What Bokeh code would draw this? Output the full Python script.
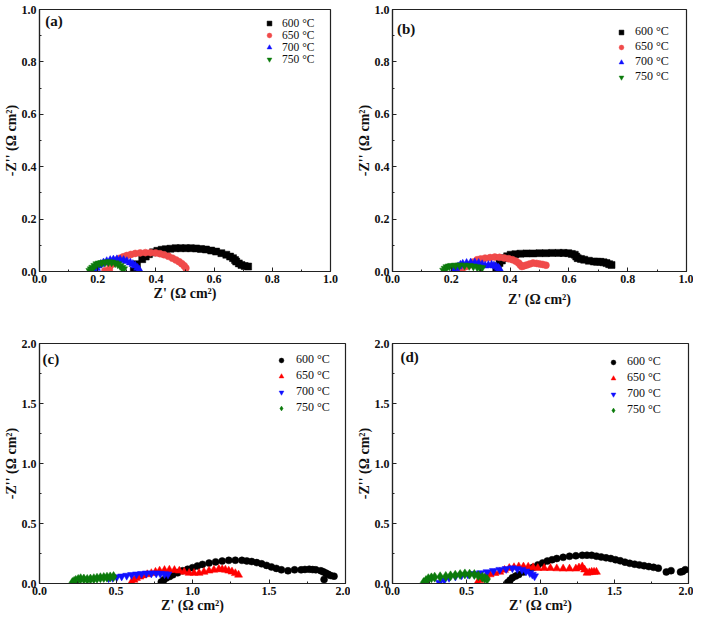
from bokeh.plotting import figure
from bokeh.layouts import column, row
from bokeh.models import SingleIntervalTicker, PrintfTickFormatter, Label, Legend, LegendItem, Range1d
from bokeh.embed import file_html
from bokeh.resources import INLINE

# ---------------- data ----------------
temps = ["600 \u00b0C", "650 \u00b0C", "700 \u00b0C", "750 \u00b0C"]

# panel (a)
a600_x = [0.324, 0.335, 0.353, 0.365, 0.376, 0.39, 0.405, 0.42, 0.434, 0.45, 0.468, 0.485, 0.503, 0.52, 0.538, 0.555, 0.572, 0.59, 0.607, 0.625, 0.642, 0.655, 0.665, 0.672, 0.676, 0.685, 0.694, 0.705, 0.717]
a600_y = [0.003, 0.028, 0.047, 0.057, 0.066, 0.073, 0.079, 0.083, 0.085, 0.087, 0.089, 0.089, 0.089, 0.089, 0.088, 0.086, 0.084, 0.080, 0.076, 0.070, 0.064, 0.057, 0.051, 0.044, 0.038, 0.031, 0.025, 0.021, 0.019]
a650_x = [0.225, 0.24, 0.243, 0.252, 0.26, 0.268, 0.277, 0.288, 0.3, 0.314, 0.329, 0.346, 0.364, 0.382, 0.399, 0.414, 0.428, 0.443, 0.457, 0.469, 0.48, 0.489, 0.497, 0.503]
a650_y = [0.003, 0.006, 0.022, 0.030, 0.038, 0.045, 0.051, 0.056, 0.061, 0.065, 0.069, 0.071, 0.072, 0.072, 0.071, 0.068, 0.064, 0.058, 0.051, 0.044, 0.037, 0.030, 0.022, 0.013]
a700_x = [0.191, 0.196, 0.202, 0.21, 0.22, 0.231, 0.243, 0.254, 0.266, 0.277, 0.289, 0.3, 0.312, 0.321, 0.329, 0.337, 0.343]
a700_y = [0.003, 0.013, 0.022, 0.028, 0.034, 0.039, 0.043, 0.045, 0.046, 0.045, 0.043, 0.039, 0.034, 0.028, 0.022, 0.014, 0.006]
a750_x = [0.173, 0.178, 0.183, 0.19, 0.197, 0.205, 0.214, 0.225, 0.237, 0.248, 0.26, 0.269, 0.277, 0.283, 0.289]
a750_y = [0.003, 0.009, 0.015, 0.022, 0.028, 0.031, 0.033, 0.035, 0.036, 0.035, 0.032, 0.028, 0.022, 0.015, 0.009]

# panel (b)
b600_x = [0.353, 0.358, 0.364, 0.372, 0.38, 0.39, 0.402, 0.418, 0.435, 0.456, 0.478, 0.5, 0.522, 0.543, 0.565, 0.582, 0.598, 0.61, 0.62, 0.625, 0.63, 0.641, 0.652, 0.668, 0.685, 0.696, 0.707, 0.718, 0.728, 0.737, 0.745]
b600_y = [0.006, 0.02, 0.032, 0.042, 0.051, 0.058, 0.064, 0.066, 0.068, 0.069, 0.069, 0.07, 0.07, 0.071, 0.071, 0.071, 0.07, 0.067, 0.064, 0.057, 0.051, 0.048, 0.045, 0.041, 0.038, 0.037, 0.037, 0.035, 0.032, 0.028, 0.025]
b650_x = [0.217, 0.228, 0.239, 0.25, 0.261, 0.275, 0.288, 0.3, 0.315, 0.332, 0.348, 0.364, 0.38, 0.395, 0.408, 0.42, 0.429, 0.435, 0.44, 0.448, 0.457, 0.467, 0.478, 0.49, 0.5, 0.511, 0.522]
b650_y = [0.004, 0.008, 0.013, 0.019, 0.025, 0.036, 0.045, 0.048, 0.051, 0.053, 0.055, 0.054, 0.052, 0.049, 0.045, 0.039, 0.032, 0.025, 0.019, 0.022, 0.025, 0.029, 0.032, 0.031, 0.029, 0.027, 0.024]
b700_x = [0.207, 0.215, 0.223, 0.231, 0.239, 0.252, 0.266, 0.28, 0.293, 0.305, 0.315, 0.326, 0.337, 0.345, 0.353, 0.36, 0.364]
b700_y = [0.004, 0.012, 0.019, 0.025, 0.029, 0.032, 0.034, 0.034, 0.032, 0.027, 0.022, 0.024, 0.025, 0.022, 0.019, 0.014, 0.009]
b750_x = [0.174, 0.179, 0.185, 0.193, 0.201, 0.214, 0.228, 0.245, 0.261, 0.275, 0.288, 0.297, 0.304]
b750_y = [0.004, 0.011, 0.017, 0.02, 0.022, 0.023, 0.024, 0.023, 0.022, 0.02, 0.017, 0.015, 0.013]

# panel (c)
c600_x = [0.796, 0.812, 0.828, 0.85, 0.871, 0.903, 0.935, 0.968, 1.0, 1.032, 1.065, 1.108, 1.151, 1.194, 1.237, 1.28, 1.323, 1.355, 1.387, 1.42, 1.452, 1.484, 1.516, 1.548, 1.581, 1.624, 1.667, 1.71, 1.735, 1.763, 1.785, 1.806, 1.839, 1.855, 1.871, 1.887, 1.903, 1.925, 1.86]
c600_y = [0.013, 0.03, 0.045, 0.058, 0.072, 0.089, 0.106, 0.119, 0.132, 0.146, 0.159, 0.17, 0.18, 0.187, 0.193, 0.194, 0.193, 0.188, 0.183, 0.174, 0.164, 0.151, 0.138, 0.126, 0.114, 0.106, 0.114, 0.114, 0.117, 0.119, 0.116, 0.114, 0.106, 0.097, 0.087, 0.077, 0.066, 0.061, 0.034]
c650_x = [0.602, 0.618, 0.634, 0.656, 0.677, 0.704, 0.731, 0.758, 0.785, 0.817, 0.849, 0.882, 0.914, 0.946, 0.978, 1.01, 1.043, 1.075, 1.108, 1.14, 1.172, 1.194, 1.215, 1.237, 1.258, 1.28, 1.301]
c650_y = [0.013, 0.03, 0.045, 0.056, 0.066, 0.076, 0.085, 0.096, 0.106, 0.111, 0.114, 0.111, 0.106, 0.096, 0.087, 0.087, 0.087, 0.096, 0.106, 0.113, 0.119, 0.117, 0.114, 0.106, 0.098, 0.085, 0.072]
c700_x = [0.452, 0.478, 0.505, 0.537, 0.57, 0.602, 0.634, 0.667, 0.699, 0.731, 0.763, 0.79, 0.817, 0.84]
c700_y = [0.045, 0.049, 0.053, 0.06, 0.066, 0.072, 0.077, 0.081, 0.085, 0.085, 0.085, 0.082, 0.079, 0.077]
c750_x = [0.215, 0.226, 0.237, 0.253, 0.269, 0.29, 0.312, 0.333, 0.355, 0.376, 0.398, 0.42, 0.441, 0.462, 0.484]
c750_y = [0.008, 0.017, 0.026, 0.034, 0.04, 0.037, 0.034, 0.037, 0.04, 0.044, 0.048, 0.05, 0.053, 0.055, 0.058]

# panel (d)
d600_x = [0.778, 0.794, 0.81, 0.832, 0.853, 0.885, 0.917, 0.95, 0.982, 1.014, 1.046, 1.078, 1.11, 1.153, 1.196, 1.239, 1.282, 1.314, 1.346, 1.378, 1.41, 1.443, 1.475, 1.507, 1.539, 1.571, 1.603, 1.636, 1.668, 1.7, 1.732, 1.764, 1.796, 1.85, 1.882, 1.946, 1.978, 1.96]
d600_y = [0.008, 0.028, 0.048, 0.062, 0.075, 0.095, 0.115, 0.135, 0.155, 0.171, 0.187, 0.198, 0.208, 0.218, 0.227, 0.231, 0.235, 0.236, 0.235, 0.228, 0.221, 0.214, 0.208, 0.198, 0.189, 0.178, 0.168, 0.161, 0.155, 0.148, 0.141, 0.135, 0.128, 0.096, 0.107, 0.096, 0.115, 0.1]
d650_x = [0.574, 0.59, 0.607, 0.634, 0.66, 0.692, 0.725, 0.757, 0.789, 0.821, 0.853, 0.885, 0.917, 0.95, 0.982, 1.025, 1.067, 1.11, 1.153, 1.196, 1.239, 1.26, 1.282, 1.298, 1.314, 1.33, 1.346, 1.362, 1.378]
d650_y = [0.008, 0.028, 0.048, 0.062, 0.075, 0.086, 0.096, 0.112, 0.128, 0.135, 0.141, 0.14, 0.139, 0.134, 0.128, 0.128, 0.128, 0.125, 0.123, 0.123, 0.123, 0.132, 0.141, 0.115, 0.088, 0.092, 0.096, 0.096, 0.096]
d700_x = [0.317, 0.35, 0.382, 0.425, 0.467, 0.51, 0.553, 0.596, 0.639, 0.682, 0.725, 0.768, 0.81, 0.843, 0.875, 0.902, 0.928, 0.945, 0.96]
d700_y = [0.008, 0.028, 0.048, 0.059, 0.069, 0.075, 0.08, 0.088, 0.096, 0.106, 0.115, 0.122, 0.128, 0.122, 0.115, 0.102, 0.088, 0.075, 0.061]
d750_x = [0.21, 0.226, 0.242, 0.263, 0.285, 0.322, 0.36, 0.392, 0.424, 0.457, 0.489, 0.521, 0.553, 0.58, 0.607, 0.623, 0.639]
d750_y = [0.008, 0.024, 0.04, 0.047, 0.053, 0.056, 0.059, 0.064, 0.069, 0.075, 0.08, 0.078, 0.075, 0.064, 0.053, 0.044, 0.035]

# axis settings
ab_max = 1.0
ab_major = 0.2
cd_max = 2.0
cd_major = 0.5
x_title = "Z' (\u03a9 cm\u00b2)"
y_title = "-Z'' (\u03a9 cm\u00b2)"

SERIF = "Liberation Serif"
RED_AB = "#f04a4a"
RED_CD = "#ff0000"
BLUE = "#1010ff"
GREEN = "#0b7a0b"
BLACK = "#000000"


def make_panel(tag, tag_pos, rng, major, series, width, height, borders, leg,
               x_title_standoff=0):
    left, right, top, bottom = borders
    p = figure(width=width, height=height, output_backend="svg", toolbar_location=None,
               x_range=Range1d(0, rng), y_range=Range1d(0, rng),
               min_border_left=left, min_border_right=right,
               min_border_top=top, min_border_bottom=bottom)
    p.background_fill_color = "white"
    p.border_fill_color = "white"
    p.outline_line_color = "#222222"
    p.outline_line_width = 1.2
    p.xgrid.visible = False
    p.ygrid.visible = False
    for ax, title in ((p.xaxis[0], x_title), (p.yaxis[0], y_title)):
        ax.ticker = SingleIntervalTicker(interval=major, num_minor_ticks=2)
        ax.formatter = PrintfTickFormatter(format="%.1f")
        ax.major_tick_in = 4
        ax.major_tick_out = 0
        ax.minor_tick_in = 2
        ax.minor_tick_out = 0
        ax.axis_line_color = "#222222"
        ax.axis_line_width = 1.2
        ax.major_tick_line_color = "#222222"
        ax.minor_tick_line_color = "#222222"
        ax.major_label_text_font = SERIF
        ax.major_label_text_font_style = "bold"
        ax.major_label_text_font_size = "12px"
        ax.major_label_text_color = "#111111"
        ax.major_label_standoff = 3
        ax.axis_label = title
        ax.axis_label_text_font = SERIF
        ax.axis_label_text_font_style = "bold"
        ax.axis_label_text_font_size = "14px"
        ax.axis_label_text_color = "#111111"
    p.xaxis[0].axis_label_standoff = x_title_standoff
    p.yaxis[0].axis_label_standoff = 0

    items = []
    for (xs, ys, marker, color, size), lab in zip(series, temps):
        r = p.scatter(x=xs, y=ys, marker=marker, size=size, fill_color=color,
                      line_color=color, line_width=0.5)
        items.append(LegendItem(label=lab, renderers=[r]))
    font_px, spacing, margin, label_width, standoff = leg
    legend = Legend(items=items, location="top_right", margin=margin,
                    padding=3, spacing=spacing, glyph_width=12, glyph_height=12,
                    label_height=10, label_width=label_width, label_standoff=standoff,
                    label_text_font=SERIF, label_text_font_size=f"{font_px}px",
                    label_text_color="#111111",
                    background_fill_alpha=0, border_line_alpha=0)
    p.add_layout(legend)

    p.add_layout(Label(x=rng * tag_pos[0], y=rng * tag_pos[1], text=tag, text_font=SERIF,
                       text_font_style="bold", text_font_size="15px",
                       text_baseline="top", text_align="left", text_color="#111111"))
    return p


pa = make_panel("(a)", (0.02, 0.988), ab_max, ab_major, [
    (a600_x, a600_y, "square", BLACK, 7),
    (a650_x, a650_y, "circle", RED_AB, 7),
    (a700_x, a700_y, "triangle", BLUE, 8),
    (a750_x, a750_y, "inverted_triangle", GREEN, 8),
], 350, 312, (38, 20, 9, 41), (11.5, 0, 5, 40, 7))

pb = make_panel("(b)", (0.015, 0.955), ab_max, ab_major, [
    (b600_x, b600_y, "square", BLACK, 7),
    (b650_x, b650_y, "circle", RED_AB, 7),
    (b700_x, b700_y, "triangle", BLUE, 8),
    (b750_x, b750_y, "inverted_triangle", GREEN, 8),
], 343, 312, (42, 7, 9, 41), (12, 0, 12, 36, 8), x_title_standoff=6)

pc = make_panel("(c)", (0.01, 0.97), cd_max, cd_major, [
    (c600_x, c600_y, "circle", BLACK, 7),
    (c650_x, c650_y, "triangle", RED_CD, 8),
    (c700_x, c700_y, "inverted_triangle", BLUE, 8),
    (c750_x, c750_y, "diamond", GREEN, 10),
], 350, 305, (38, 5, 31, 34), (12, 1, 6, 40, 9))

pd_ = make_panel("(d)", (0.027, 0.979), cd_max, cd_major, [
    (d600_x, d600_y, "circle", BLACK, 7),
    (d650_x, d650_y, "triangle", RED_CD, 8),
    (d700_x, d700_y, "inverted_triangle", BLUE, 8),
    (d750_x, d750_y, "diamond", GREEN, 10),
], 343, 305, (42, 5, 31, 34), (12, 1, 8, 50, 8))

layout = column(row(pa, pb), row(pc, pd_))

open("out.html", "w").write(file_html(layout, INLINE))
